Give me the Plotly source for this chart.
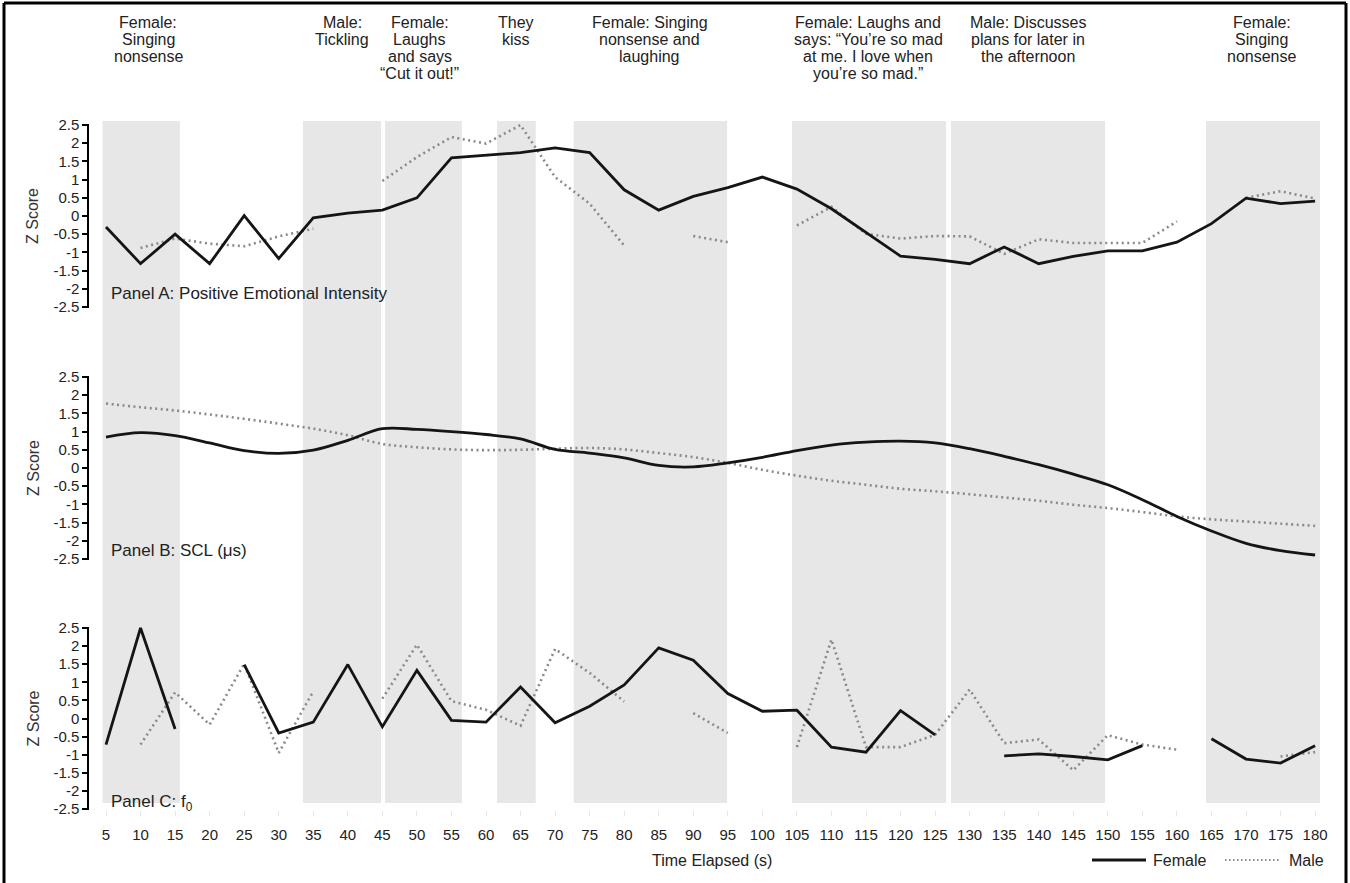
import plotly.graph_objects as go

W, H = 1350, 883

time_s = list(range(5, 181, 5))

female_a = [-0.30, -1.31, -0.50, -1.31, 0.01, -1.17, -0.05, 0.08, 0.16, 0.50, 1.60, 1.67,
            1.74, 1.87, 1.74, 0.72, 0.16, 0.54, 0.78, 1.07, 0.74, 0.20, -0.45, -1.10,
            -1.19, -1.31, -0.85, -1.31, -1.11, -0.96, -0.96, -0.72, -0.21, 0.49, 0.34, 0.41]
male_a = [None, -0.88, -0.62, -0.76, -0.83, -0.56, -0.35, None, 0.96, 1.62, 2.17, 1.99,
          2.50, 1.07, 0.34, -0.81, None, -0.55, -0.72, None, -0.26, 0.25, -0.49, -0.62,
          -0.55, -0.56, -1.04, -0.64, -0.74, -0.74, -0.74, -0.15, None, 0.50, 0.68, 0.48]

female_b = [0.85, 0.97, 0.89, 0.69, 0.48, 0.40, 0.49, 0.76, 1.08, 1.06, 1.00, 0.92,
            0.80, 0.51, 0.41, 0.28, 0.07, 0.03, 0.14, 0.29, 0.48, 0.63, 0.71, 0.74,
            0.69, 0.53, 0.32, 0.09, -0.17, -0.46, -0.87, -1.33, -1.73, -2.07, -2.27, -2.39]
male_b = [1.77, 1.67, 1.58, 1.47, 1.35, 1.22, 1.08, 0.90, 0.66, 0.57, 0.51, 0.49,
          0.50, 0.53, 0.55, 0.51, 0.41, 0.30, 0.14, -0.05, -0.21, -0.35, -0.46, -0.57,
          -0.64, -0.72, -0.81, -0.90, -1.01, -1.10, -1.21, -1.33, -1.41, -1.47, -1.53, -1.59]

female_c = [-0.72, 2.50, -0.29, None, 1.49, -0.40, -0.10, 1.49, -0.23, 1.33, -0.05, -0.10,
            0.87, -0.12, 0.34, 0.93, 1.95, 1.61, 0.69, 0.20, 0.23, -0.79, -0.93, 0.22,
            -0.45, None, -1.03, -0.98, -1.05, -1.14, -0.75, None, -0.56, -1.12, -1.23, -0.75]
male_c = [None, -0.72, 0.72, -0.17, 1.51, -0.95, 0.75, None, 0.55, 2.04, 0.48, 0.24,
          -0.20, 1.92, 1.26, 0.47, None, 0.15, -0.40, None, -0.79, 2.18, -0.79, -0.79,
          -0.45, 0.80, -0.68, -0.58, -1.43, -0.46, -0.72, -0.86, None, None, -1.05, -0.93]

# event intervals (seconds) shown as shaded bands
event_start = [4.5, 33.5, 45.4, 61.6, 72.7, 104.3, 127.3, 164.2]
event_end = [15.7, 44.8, 56.5, 67.2, 94.9, 126.6, 149.6, 180.7]

event_labels = [["Female:", "Singing", "nonsense"],
                ["Male:", "Tickling"],
                ["Female:", "Laughs", "and says", "\u201cCut it out!\u201d"],
                ["They", "kiss"],
                ["Female: Singing", "nonsense and", "laughing"],
                ["Female: Laughs and", "says: \u201cYou\u2019re so mad", "at me. I love when",
                 "you\u2019re so mad.\u201d"],
                ["Male: Discusses", "plans for later in", "the afternoon"],
                ["Female:", "Singing", "nonsense"]]
event_label_x = [11.1, 39.2, 50.4, 64.3, 83.7, 115.3, 138.4, 172.3]

panel_titles = ["Panel A: Positive Emotional Intensity", "Panel B: SCL (\u03bcs)", "Panel C: f<sub>0</sub>"]

ytick_vals = [2.5, 2, 1.5, 1, 0.5, 0, -0.5, -1, -1.5, -2, -2.5]
ytick_text = ["2.5", "2", "1.5", "1", "0.5", "0", "-0.5", "-1", "-1.5", "-2", "-2.5"]

FONT = "Liberation Sans, Arial, sans-serif"
TXT = "#222222"
FEMALE_COL = "#151515"
MALE_COL = "#8a8a8a"
MALE_DASH = "2px,3.5px"

# pixel layout of the three panels (position of +2.5 and -2.5)
panel_px = [(125, 307), (377, 559), (628, 809)]
PAD = 0.04


def dom(top, bot):
    ppu = (bot - top) / 5.0
    t = top - PAD * ppu
    b = bot + PAD * ppu
    return [1 - b / H, 1 - t / H]


def px(x):
    return x / W


def py(y):
    return 1 - y / H


fig = go.Figure()

series = [(female_a, male_a, "linear"), (female_b, male_b, "spline"), (female_c, male_c, "linear")]
for i, (f, m, shp) in enumerate(series):
    ya = "y" if i == 0 else "y%d" % (i + 1)
    fig.add_trace(go.Scatter(x=time_s, y=m, yaxis=ya, xaxis="x", mode="lines", name="Male",
                             connectgaps=False, showlegend=False, hoverinfo="skip",
                             line=dict(color=MALE_COL, width=2.6, dash=MALE_DASH, shape=shp)))
    fig.add_trace(go.Scatter(x=time_s, y=f, yaxis=ya, xaxis="x", mode="lines", name="Female",
                             connectgaps=False, showlegend=False, hoverinfo="skip",
                             line=dict(color=FEMALE_COL, width=2.8, shape=shp)))

shapes = []
for s, e in zip(event_start, event_end):
    shapes.append(dict(type="rect", xref="x", yref="paper", x0=s, x1=e,
                       y0=py(803), y1=py(121), fillcolor="#e7e7e7",
                       line=dict(width=0), layer="below"))
# frame
for (x0, y0, x1, y1) in [(4, 3, 4, H), (4, 3, 1346, 3), (1346, 3, 1346, H)]:
    shapes.append(dict(type="line", xref="paper", yref="paper",
                       x0=px(x0), x1=px(x1), y0=py(y0), y1=py(y1),
                       line=dict(color="black", width=3)))
# legend keys
shapes.append(dict(type="line", xref="paper", yref="paper", x0=px(1092), x1=px(1146),
                   y0=py(860), y1=py(860), line=dict(color=FEMALE_COL, width=2.8)))
shapes.append(dict(type="line", xref="paper", yref="paper", x0=px(1225), x1=px(1279),
                   y0=py(860), y1=py(860), line=dict(color=MALE_COL, width=2.2, dash="1.5px,2.5px")))

annotations = []
for lines, lx in zip(event_labels, event_label_x):
    for k, ln in enumerate(lines):
        annotations.append(dict(text=ln, x=lx, xref="x", y=py(22 + 17 * k), yref="paper",
                                xanchor="center", yanchor="middle", showarrow=False,
                                font=dict(family=FONT, size=16, color=TXT)))
panel_label_y = [293, 550, 803]
for t, yy in zip(panel_titles, panel_label_y):
    annotations.append(dict(text=t, x=px(109), xref="paper", y=py(yy), yref="paper",
                            xanchor="left", yanchor="middle", showarrow=False,
                            font=dict(family=FONT, size=17, color=TXT)))
for (top, bot) in panel_px:
    annotations.append(dict(text="Z Score", x=px(33), xref="paper", y=py((top + bot) / 2),
                            yref="paper", textangle=-90, xanchor="center", yanchor="middle",
                            showarrow=False, font=dict(family=FONT, size=16, color="#333333")))
annotations.append(dict(text="Time Elapsed (s)", x=px(712), xref="paper", y=py(860),
                        yref="paper", xanchor="center", yanchor="middle", showarrow=False,
                        font=dict(family=FONT, size=16, color=TXT)))
annotations.append(dict(text="Female", x=px(1151), xref="paper", y=py(860), yref="paper",
                        xanchor="left", yanchor="middle", showarrow=False,
                        font=dict(family=FONT, size=16, color=TXT)))
annotations.append(dict(text="Male", x=px(1287), xref="paper", y=py(860), yref="paper",
                        xanchor="left", yanchor="middle", showarrow=False,
                        font=dict(family=FONT, size=16, color=TXT)))

layout = dict(
    width=W, height=H,
    margin=dict(l=0, r=0, t=0, b=0, autoexpand=False),
    paper_bgcolor="white", plot_bgcolor="rgba(0,0,0,0)",
    font=dict(family=FONT, size=15, color=TXT),
    shapes=shapes, annotations=annotations, showlegend=False, hovermode=False,
    xaxis=dict(domain=[px(89), px(1322)], range=[2.54, 181.0], anchor="y3",
               tickvals=time_s, ticks="outside", ticklen=5, tickcolor="#e6e6e6",
               showline=False, showgrid=False, zeroline=False, ticklabelstandoff=6,
               tickfont=dict(family=FONT, size=15, color=TXT), automargin=False),
)
for i, (top, bot) in enumerate(panel_px):
    key = "yaxis" if i == 0 else "yaxis%d" % (i + 1)
    layout[key] = dict(domain=dom(top, bot), range=[-2.5 - PAD, 2.5 + PAD], anchor="x",
                       tickvals=ytick_vals, ticktext=ytick_text, ticks="outside", ticklen=5,
                       tickwidth=1.5, tickcolor="black", showline=True, linewidth=1.5,
                       linecolor="black", showgrid=False, zeroline=False, automargin=False,
                       tickfont=dict(family=FONT, size=15, color=TXT))

fig.update_layout(**layout)
fig.write_html("out.html", config={"displayModeBar": False},
               post_script="document.body.style.margin='0px';document.body.style.overflow='hidden';")
